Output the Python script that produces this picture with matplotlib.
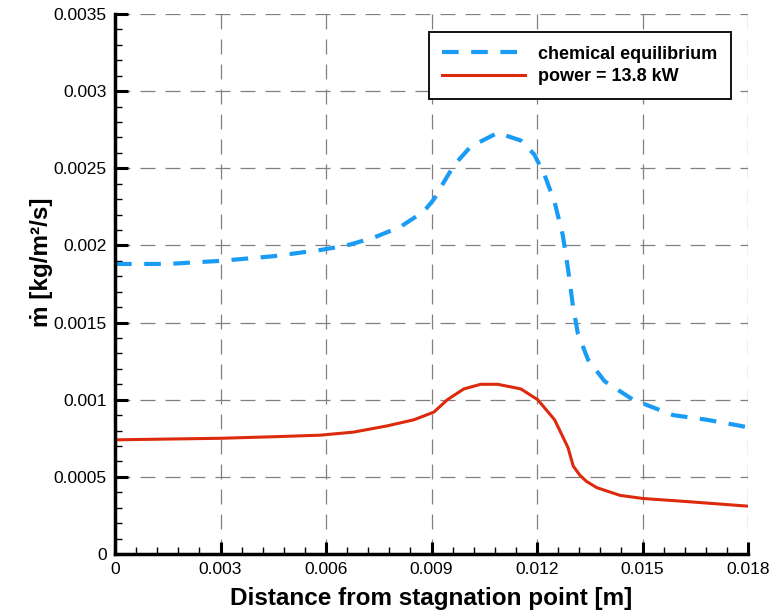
import numpy as np
import matplotlib
matplotlib.use("Agg")
import matplotlib.pyplot as plt
from matplotlib.ticker import MultipleLocator, FormatStrFormatter

plt.rcParams['font.family'] = ['Liberation Sans', 'DejaVu Sans']

# chemical equilibrium curve
x_ce = [0, 0.0015, 0.003, 0.0045, 0.00583, 0.00659, 0.00735, 0.00811, 0.00878,
        0.00907, 0.00935, 0.00964, 0.01011, 0.01088, 0.01154, 0.01192, 0.01221,
        0.0125, 0.01273, 0.01288, 0.01302, 0.01316, 0.01345, 0.01392, 0.01473,
        0.01587, 0.01683, 0.0178, 0.018]
y_ce = [0.00188, 0.00188, 0.0019, 0.00193, 0.00197, 0.002, 0.00205, 0.00212,
        0.00222, 0.0023, 0.00241, 0.00252, 0.00264, 0.00273, 0.00268, 0.00259,
        0.00246, 0.00228, 0.00207, 0.00185, 0.00161, 0.00143, 0.00126, 0.00112,
        0.001, 0.0009, 0.00087, 0.00083, 0.00082]

# power = 13.8 kW curve
x_pw = [0, 0.003, 0.0045, 0.00583, 0.00678, 0.00773, 0.0085, 0.00907, 0.00945,
        0.00992, 0.0104, 0.01088, 0.01154, 0.01202, 0.0125, 0.01288, 0.01303,
        0.01322, 0.01341, 0.0137, 0.01436, 0.015, 0.01625, 0.018]
y_pw = [0.00074, 0.00075, 0.00076, 0.00077, 0.00079, 0.00083, 0.00087, 0.00092,
        0.001, 0.00107, 0.0011, 0.0011, 0.00107, 0.001, 0.00087, 0.00069,
        0.00057, 0.00051, 0.00047, 0.00043, 0.00038, 0.00036, 0.00034, 0.00031]

labels = ["chemical equilibrium", "power = 13.8 kW"]

fig = plt.figure(figsize=(7.75, 6.15), dpi=100)
ax = fig.add_axes([0.1484, 0.0992, 0.8168, 0.878])

ax.plot(x_ce, y_ce, color="#1a9cf5", lw=3, linestyle=(0, (4, 3)), label=labels[0])
ax.plot(x_pw, y_pw, color="#dd2a0c", lw=2.2, label=labels[1])

ax.set_xlim(0, 0.018)
ax.set_ylim(0, 0.0035)
ax.xaxis.set_major_locator(MultipleLocator(0.003))
ax.xaxis.set_minor_locator(MultipleLocator(0.0006))
ax.yaxis.set_major_locator(MultipleLocator(0.0005))
ax.yaxis.set_minor_locator(MultipleLocator(0.0001))
ax.xaxis.set_major_formatter(FormatStrFormatter('%g'))
ax.yaxis.set_major_formatter(FormatStrFormatter('%g'))

ax.grid(True, which='major', color="#808080", lw=0.9, linestyle=(0, (12, 8)))
ax.set_axisbelow(True)

for s in ['top', 'right']:
    ax.spines[s].set_visible(False)
for s in ['left', 'bottom']:
    ax.spines[s].set_linewidth(2.5)

ax.tick_params(which='major', direction='in', length=9, width=2.2, labelsize=12.5, pad=6)
ax.tick_params(which='minor', direction='in', length=5, width=1)

ax.set_xlabel("Distance from stagnation point [m]", fontsize=17.5, fontweight='bold')
ax.set_ylabel("ṁ [kg/m²/s]", fontsize=17.5, fontweight='bold')
ax.xaxis.set_label_coords(0.5, -0.061)
ax.yaxis.set_label_coords(-0.0975, 0.54)

leg = ax.legend(loc='upper right', bbox_to_anchor=(0.987, 0.983), fancybox=False,
                edgecolor='black', framealpha=1, handlelength=4.6, borderpad=0.75,
                labelspacing=0.3, handletextpad=0.7, borderaxespad=0.5,
                prop={'weight': 'bold', 'size': 13})
leg.get_frame().set_linewidth(1.3)

fig.savefig("out.png", dpi=100)
